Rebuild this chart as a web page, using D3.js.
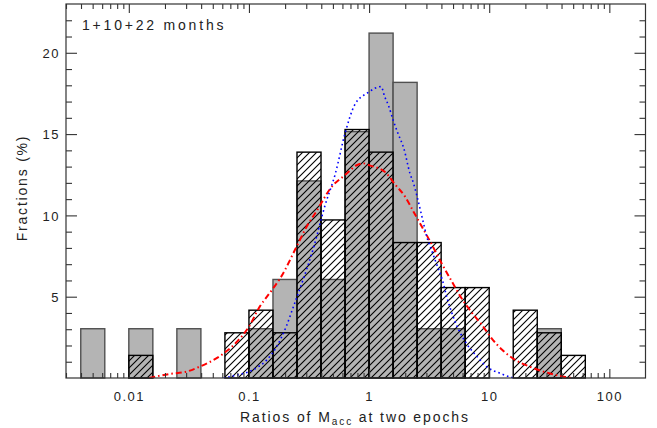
<!DOCTYPE html>
<html>
<head>
<meta charset="utf-8">
<script src="https://cdn.jsdelivr.net/npm/d3@7"></script>
<style>
  body { margin: 0; background: #fff; }
  text { font-family: "Liberation Sans", "DejaVu Sans", sans-serif; fill: #222; }
</style>
</head>
<body>
<script>
// log10 of the lower edge of each 0.2 dex bin
var binStart = [-2.4, -2.2, -2.0, -1.8, -1.6, -1.4, -1.2, -1.0, -0.8, -0.6, -0.4,
                -0.2, 0.0, 0.2, 0.4, 0.6, 0.8, 1.0, 1.2, 1.4, 1.6];
var binWidth = 0.2;
// gray filled histogram (%)
var grayFrac = [3.03, 0, 3.03, 0, 3.03, 0, 0, 3.03, 6.06, 12.12, 6.06,
                15.15, 21.21, 18.18, 3.03, 3.03, 0, 0, 0, 3.03, 0];
// hatched histogram (%)
var hatchFrac = [0, 0, 1.39, 0, 0, 0, 2.78, 4.17, 2.78, 13.89, 9.72,
                 15.28, 13.89, 8.33, 8.33, 5.56, 5.56, 0, 4.17, 2.78, 1.39];

// red dash-dot curve, [log10 ratio, %]
var redCurve = [[-1.83, 0], [-1.66, 0.25], [-1.52, 0.39], [-1.41, 0.7], [-1.23, 1.41],
  [-1.10, 2.23], [-1.0, 3.16], [-0.91, 4.39], [-0.85, 5.0], [-0.80, 5.5], [-0.74, 6.13],
  [-0.59, 8.28], [-0.52, 9.3], [-0.44, 10.23], [-0.31, 11.77], [-0.2, 12.48], [-0.10, 13.1],
  [-0.05, 13.2], [0.01, 13.06], [0.13, 12.69], [0.22, 11.87], [0.30, 11.15], [0.37, 10.23],
  [0.44, 9.3], [0.51, 8.38], [0.60, 7.1], [0.69, 5.92], [0.77, 4.9], [0.86, 3.98],
  [0.94, 3.26], [1.02, 2.44], [1.11, 1.72], [1.22, 1.1], [1.34, 0.69], [1.48, 0.33],
  [1.62, 0.08], [1.70, 0]];

// blue dotted curve, [log10 ratio, %]
var blueCurve = [[-1.21, 0], [-1.10, 0.18], [-1.0, 0.39], [-0.92, 0.7], [-0.85, 1.12],
  [-0.77, 1.92], [-0.69, 3.16], [-0.63, 4.38], [-0.55, 6.03], [-0.46, 8.07], [-0.37, 10.53],
  [-0.28, 12.59], [-0.2, 15.05], [-0.12, 16.79], [-0.01, 17.55], [0.10, 17.92], [0.13, 17.3],
  [0.16, 16.79], [0.20, 15.87], [0.24, 15.05], [0.29, 14.1], [0.34, 12.59], [0.37, 11.97],
  [0.40, 11.15], [0.43, 10.23], [0.45, 9.61], [0.48, 8.69], [0.51, 8.07], [0.56, 7.05],
  [0.61, 6.03], [0.65, 4.9], [0.69, 3.98], [0.74, 3.06], [0.81, 2.13], [0.90, 1.31],
  [0.98, 0.69], [1.09, 0.29], [1.2, 0]];

var xMajor = [0.01, 0.1, 1, 10, 100];
var xMajorLabels = ["0.01", "0.1", "1", "10", "100"];
var yMajor = [5, 10, 15, 20];

var W = 657, H = 428;
var svg = d3.select("body").append("svg").attr("width", W).attr("height", H);

var x = d3.scaleLog().domain([0.003, 200]).range([66, 645.5]);
var y = d3.scaleLinear().domain([0, 23]).range([378, 4]);

// hatch pattern
var defs = svg.append("defs");
defs.append("pattern").attr("id", "hatch")
  .attr("patternUnits", "userSpaceOnUse").attr("width", 7).attr("height", 7)
  .append("path").attr("d", "M-1,1 l2,-2 M0,7 l7,-7 M6,8 l2,-2")
  .attr("stroke", "#000").attr("stroke-width", 1.1);
defs.append("clipPath").attr("id", "plotclip").append("rect")
  .attr("x", 66).attr("y", 4).attr("width", 579.5).attr("height", 374);

// gray histogram
svg.append("g").selectAll("rect")
  .data(binStart.map(function (b, i) { return {b: b, v: grayFrac[i]}; }).filter(function (d) { return d.v > 0; }))
  .enter().append("rect")
  .attr("x", function (d) { return x(Math.pow(10, d.b)); })
  .attr("width", function (d) { return x(Math.pow(10, d.b + binWidth)) - x(Math.pow(10, d.b)); })
  .attr("y", function (d) { return y(d.v); })
  .attr("height", function (d) { return y(0) - y(d.v); })
  .style("fill", "#b4b4b4").style("stroke", "#505050").style("stroke-width", 1.4);

// hatched histogram
svg.append("g").selectAll("rect")
  .data(binStart.map(function (b, i) { return {b: b, v: hatchFrac[i]}; }).filter(function (d) { return d.v > 0; }))
  .enter().append("rect")
  .attr("x", function (d) { return x(Math.pow(10, d.b)); })
  .attr("width", function (d) { return x(Math.pow(10, d.b + binWidth)) - x(Math.pow(10, d.b)); })
  .attr("y", function (d) { return y(d.v); })
  .attr("height", function (d) { return y(0) - y(d.v); })
  .style("fill", "url(#hatch)").style("stroke", "#000").style("stroke-width", 1.4);

// curves
var line = d3.line()
  .x(function (d) { return x(Math.pow(10, d[0])); })
  .y(function (d) { return y(d[1]); })
  .curve(d3.curveMonotoneX);

svg.append("path").datum(redCurve).attr("d", line).attr("clip-path", "url(#plotclip)")
  .style("fill", "none").style("stroke", "#ff0000").style("stroke-width", 2)
  .style("stroke-dasharray", "6,3,1.5,3");
svg.append("path").datum(blueCurve).attr("d", line).attr("clip-path", "url(#plotclip)")
  .style("fill", "none").style("stroke", "#0000ff").style("stroke-width", 1.6)
  .style("stroke-dasharray", "1.6,3");

// minor tick values
var xMinor = [];
[0.001, 0.01, 0.1, 1, 10, 100].forEach(function (dec) {
  for (var k = 2; k <= 9; k++) {
    var v = dec * k;
    if (v >= 0.003 && v < 200) xMinor.push(v);
  }
});
var yMinor = d3.range(1, 23).filter(function (v) { return v % 5 !== 0; });

function styleAxis(g) {
  g.select(".domain").remove();
  g.selectAll("line").attr("stroke", "#333").attr("stroke-width", 1.1);
}

// bottom
svg.append("g").attr("transform", "translate(0,378)")
  .call(d3.axisBottom(x).tickValues(xMajor).tickSize(-9)
    .tickFormat(function (d, i) { return xMajorLabels[i]; }))
  .call(styleAxis)
  .call(function (g) {
    g.selectAll("text").attr("y", 23).attr("dy", 0)
      .style("font-size", "13px").style("letter-spacing", "1.5px")
      .attr("font-family", null).attr("fill", "#222");
  });
svg.append("g").attr("transform", "translate(0,378)")
  .call(d3.axisBottom(x).tickValues(xMinor).tickSize(-5).tickFormat(""))
  .call(styleAxis);
// top
svg.append("g").attr("transform", "translate(0,4)")
  .call(d3.axisTop(x).tickValues(xMajor).tickSize(-9).tickFormat(""))
  .call(styleAxis);
svg.append("g").attr("transform", "translate(0,4)")
  .call(d3.axisTop(x).tickValues(xMinor).tickSize(-5).tickFormat(""))
  .call(styleAxis);
// left
svg.append("g").attr("transform", "translate(66,0)")
  .call(d3.axisLeft(y).tickValues(yMajor).tickSize(-11))
  .call(styleAxis)
  .call(function (g) {
    g.selectAll("text").attr("x", -6).attr("dy", "0.36em")
      .style("font-size", "13px").style("letter-spacing", "1.5px")
      .attr("font-family", null).attr("fill", "#222");
  });
svg.append("g").attr("transform", "translate(66,0)")
  .call(d3.axisLeft(y).tickValues(yMinor).tickSize(-6).tickFormat(""))
  .call(styleAxis);
// right
svg.append("g").attr("transform", "translate(645.5,0)")
  .call(d3.axisRight(y).tickValues(yMajor).tickSize(-11).tickFormat(""))
  .call(styleAxis);
svg.append("g").attr("transform", "translate(645.5,0)")
  .call(d3.axisRight(y).tickValues(yMinor).tickSize(-6).tickFormat(""))
  .call(styleAxis);

// frame
svg.append("rect").attr("x", 66).attr("y", 4).attr("width", 579.5).attr("height", 374)
  .style("fill", "none").style("stroke", "#333").style("stroke-width", 1.2);

// labels
svg.append("text").attr("x", 82).attr("y", 29.5)
  .style("font-size", "14px").style("letter-spacing", "2.8px")
  .text("1+10+22 months");

var xl = svg.append("text").attr("x", 355).attr("y", 422).attr("text-anchor", "middle")
  .style("font-size", "14px").style("letter-spacing", "1.9px");
xl.append("tspan").text("Ratios of M");
xl.append("tspan").attr("dy", 3).style("font-size", "10px").text("acc");
xl.append("tspan").attr("dy", -3).text(" at two epochs");

svg.append("text").attr("transform", "translate(27,188) rotate(-90)")
  .attr("text-anchor", "middle")
  .style("font-size", "14px").style("letter-spacing", "1.8px")
  .text("Fractions (%)");
</script>
</body>
</html>
